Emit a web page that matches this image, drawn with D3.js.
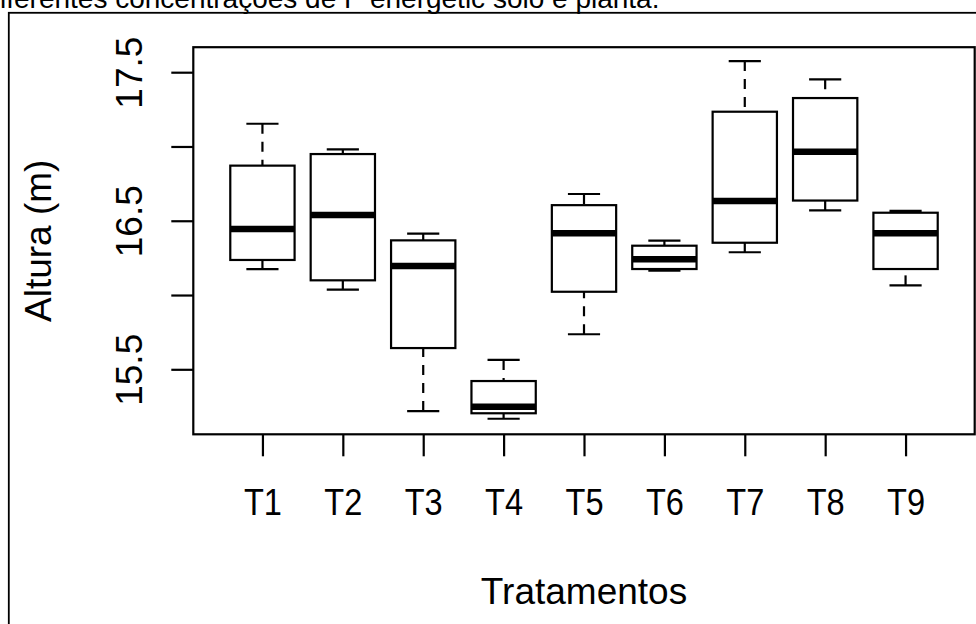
<!DOCTYPE html>
<html>
<head>
<meta charset="utf-8">
<script src="https://cdn.jsdelivr.net/npm/d3@7"></script>
<style>
  html, body { margin: 0; padding: 0; background: #fff; }
  svg { display: block; }
  text { font-family: "Liberation Sans", Arial, Helvetica, sans-serif; fill: #000; }
</style>
</head>
<body>
<svg id="chart" width="976" height="624"></svg>
<script>
// ---- data ----
const categories = ["T1", "T2", "T3", "T4", "T5", "T6", "T7", "T8", "T9"];
const whiskerLow  = [16.175, 16.036, 15.219, 15.167, 15.736, 16.164, 16.288, 16.570, 16.065];
const quartile1   = [16.236, 16.099, 15.643, 15.204, 16.022, 16.175, 16.352, 16.636, 16.175];
const medians     = [16.444, 16.539, 16.195, 15.248, 16.416, 16.240, 16.633, 16.965, 16.416];
const quartile3   = [16.871, 16.949, 16.368, 15.421, 16.605, 16.332, 17.234, 17.326, 16.554];
const whiskerHigh = [17.153, 16.981, 16.413, 15.563, 16.680, 16.366, 17.575, 17.452, 16.566];
const yTicks = [15.5, 16, 16.5, 17, 17.5];
const yTickLabels = ["15.5", "", "16.5", "", "17.5"];
const xLabel = "Tratamentos";
const yLabel = "Altura (m)";
const caption = "iferentes concentrações de P energetic solo e planta.";

// ---- layout ----
const svg = d3.select("#chart");
const plot = { left: 193.3, right: 974.7, top: 47.2, bottom: 434.3 };
const lw = 2.2;

const x = d3.scaleLinear()
  .domain([0.5 - 0.36, categories.length + 0.5 + 0.36])
  .range([plot.left, plot.right]);
const y = d3.scaleLinear().domain([15.5, 17.5]).range([369.3, 72.2]);
const unit = x(2) - x(1);
const boxW = 0.8 * unit;
const capW = 0.4 * unit;

// caption (cut at top, as in the reference)
svg.append("text").attr("x", 0).attr("y", 7.5).attr("font-size", 28).text(caption);

// outer figure frame
svg.append("rect").attr("x", 8.8).attr("y", 12.8)
  .attr("width", 1000).attr("height", 700)
  .attr("fill", "none").attr("stroke", "#000").attr("stroke-width", 1.8);

const data = categories.map((c, i) => ({
  c, i: i + 1,
  lo: whiskerLow[i], q1: quartile1[i], med: medians[i], q3: quartile3[i], hi: whiskerHigh[i]
}));

const g = svg.append("g");
const boxes = g.selectAll("g.box").data(data).join("g").attr("class", "box");

// whiskers (drawn from cap toward box, dashed)
boxes.append("line")
  .attr("x1", d => x(d.i)).attr("x2", d => x(d.i))
  .attr("y1", d => y(d.hi)).attr("y2", d => y(d.q3))
  .attr("stroke", "#000").attr("stroke-width", lw).attr("stroke-dasharray", "10,8");
boxes.append("line")
  .attr("x1", d => x(d.i)).attr("x2", d => x(d.i))
  .attr("y1", d => y(d.lo)).attr("y2", d => y(d.q1))
  .attr("stroke", "#000").attr("stroke-width", lw).attr("stroke-dasharray", "10,8");
// caps
boxes.append("line")
  .attr("x1", d => x(d.i) - capW / 2).attr("x2", d => x(d.i) + capW / 2)
  .attr("y1", d => y(d.hi)).attr("y2", d => y(d.hi))
  .attr("stroke", "#000").attr("stroke-width", lw);
boxes.append("line")
  .attr("x1", d => x(d.i) - capW / 2).attr("x2", d => x(d.i) + capW / 2)
  .attr("y1", d => y(d.lo)).attr("y2", d => y(d.lo))
  .attr("stroke", "#000").attr("stroke-width", lw);
// boxes
boxes.append("rect")
  .attr("x", d => x(d.i) - boxW / 2).attr("width", boxW)
  .attr("y", d => y(d.q3)).attr("height", d => y(d.q1) - y(d.q3))
  .attr("fill", "#fff").attr("stroke", "#000").attr("stroke-width", lw);
// medians
boxes.append("line")
  .attr("x1", d => x(d.i) - boxW / 2).attr("x2", d => x(d.i) + boxW / 2)
  .attr("y1", d => y(d.med)).attr("y2", d => y(d.med))
  .attr("stroke", "#000").attr("stroke-width", 6.5);

// plot frame
svg.append("rect")
  .attr("x", plot.left).attr("y", plot.top)
  .attr("width", plot.right - plot.left).attr("height", plot.bottom - plot.top)
  .attr("fill", "none").attr("stroke", "#000").attr("stroke-width", lw);

// y axis
const yAxis = svg.append("g").attr("transform", `translate(${plot.left},0)`)
  .call(d3.axisLeft(y).tickValues(yTicks).tickSize(22).tickSizeOuter(0)
    .tickFormat((d, i) => yTickLabels[i]));
yAxis.select(".domain").remove();
yAxis.selectAll(".tick line").attr("stroke", "#000").attr("stroke-width", lw);
yAxis.selectAll(".tick text")
  .attr("x", null).attr("y", null).attr("dy", null)
  .attr("font-size", 37).attr("text-anchor", "middle")
  .attr("fill", "#000")
  .attr("transform", `translate(${141.5 - plot.left},0) rotate(-90)`)
  .attr("font-family", "Liberation Sans, Arial, sans-serif");
yAxis.selectAll(".tick").filter((d, i) => yTickLabels[i] === "").select("text").remove();

// x axis
const xAxis = svg.append("g").attr("transform", `translate(0,${plot.bottom})`)
  .call(d3.axisBottom(x).tickValues(data.map(d => d.i)).tickSize(22).tickSizeOuter(0)
    .tickFormat((d, i) => categories[i]));
xAxis.select(".domain").remove();
xAxis.selectAll(".tick line").attr("stroke", "#000").attr("stroke-width", lw);
xAxis.selectAll(".tick text")
  .attr("y", 515 - plot.bottom).attr("dy", null)
  .attr("font-size", 37).attr("text-anchor", "middle").attr("fill", "#000")
  .attr("transform", "scale(0.88,1)")
  .attr("font-family", "Liberation Sans, Arial, sans-serif");

// axis titles
svg.append("text")
  .attr("x", (plot.left + plot.right) / 2).attr("y", 604)
  .attr("text-anchor", "middle").attr("font-size", 37).text(xLabel);
svg.append("text")
  .attr("transform", `translate(50.5,${(plot.top + plot.bottom) / 2}) rotate(-90)`)
  .attr("text-anchor", "middle").attr("font-size", 37).text(yLabel);
</script>
</body>
</html>
